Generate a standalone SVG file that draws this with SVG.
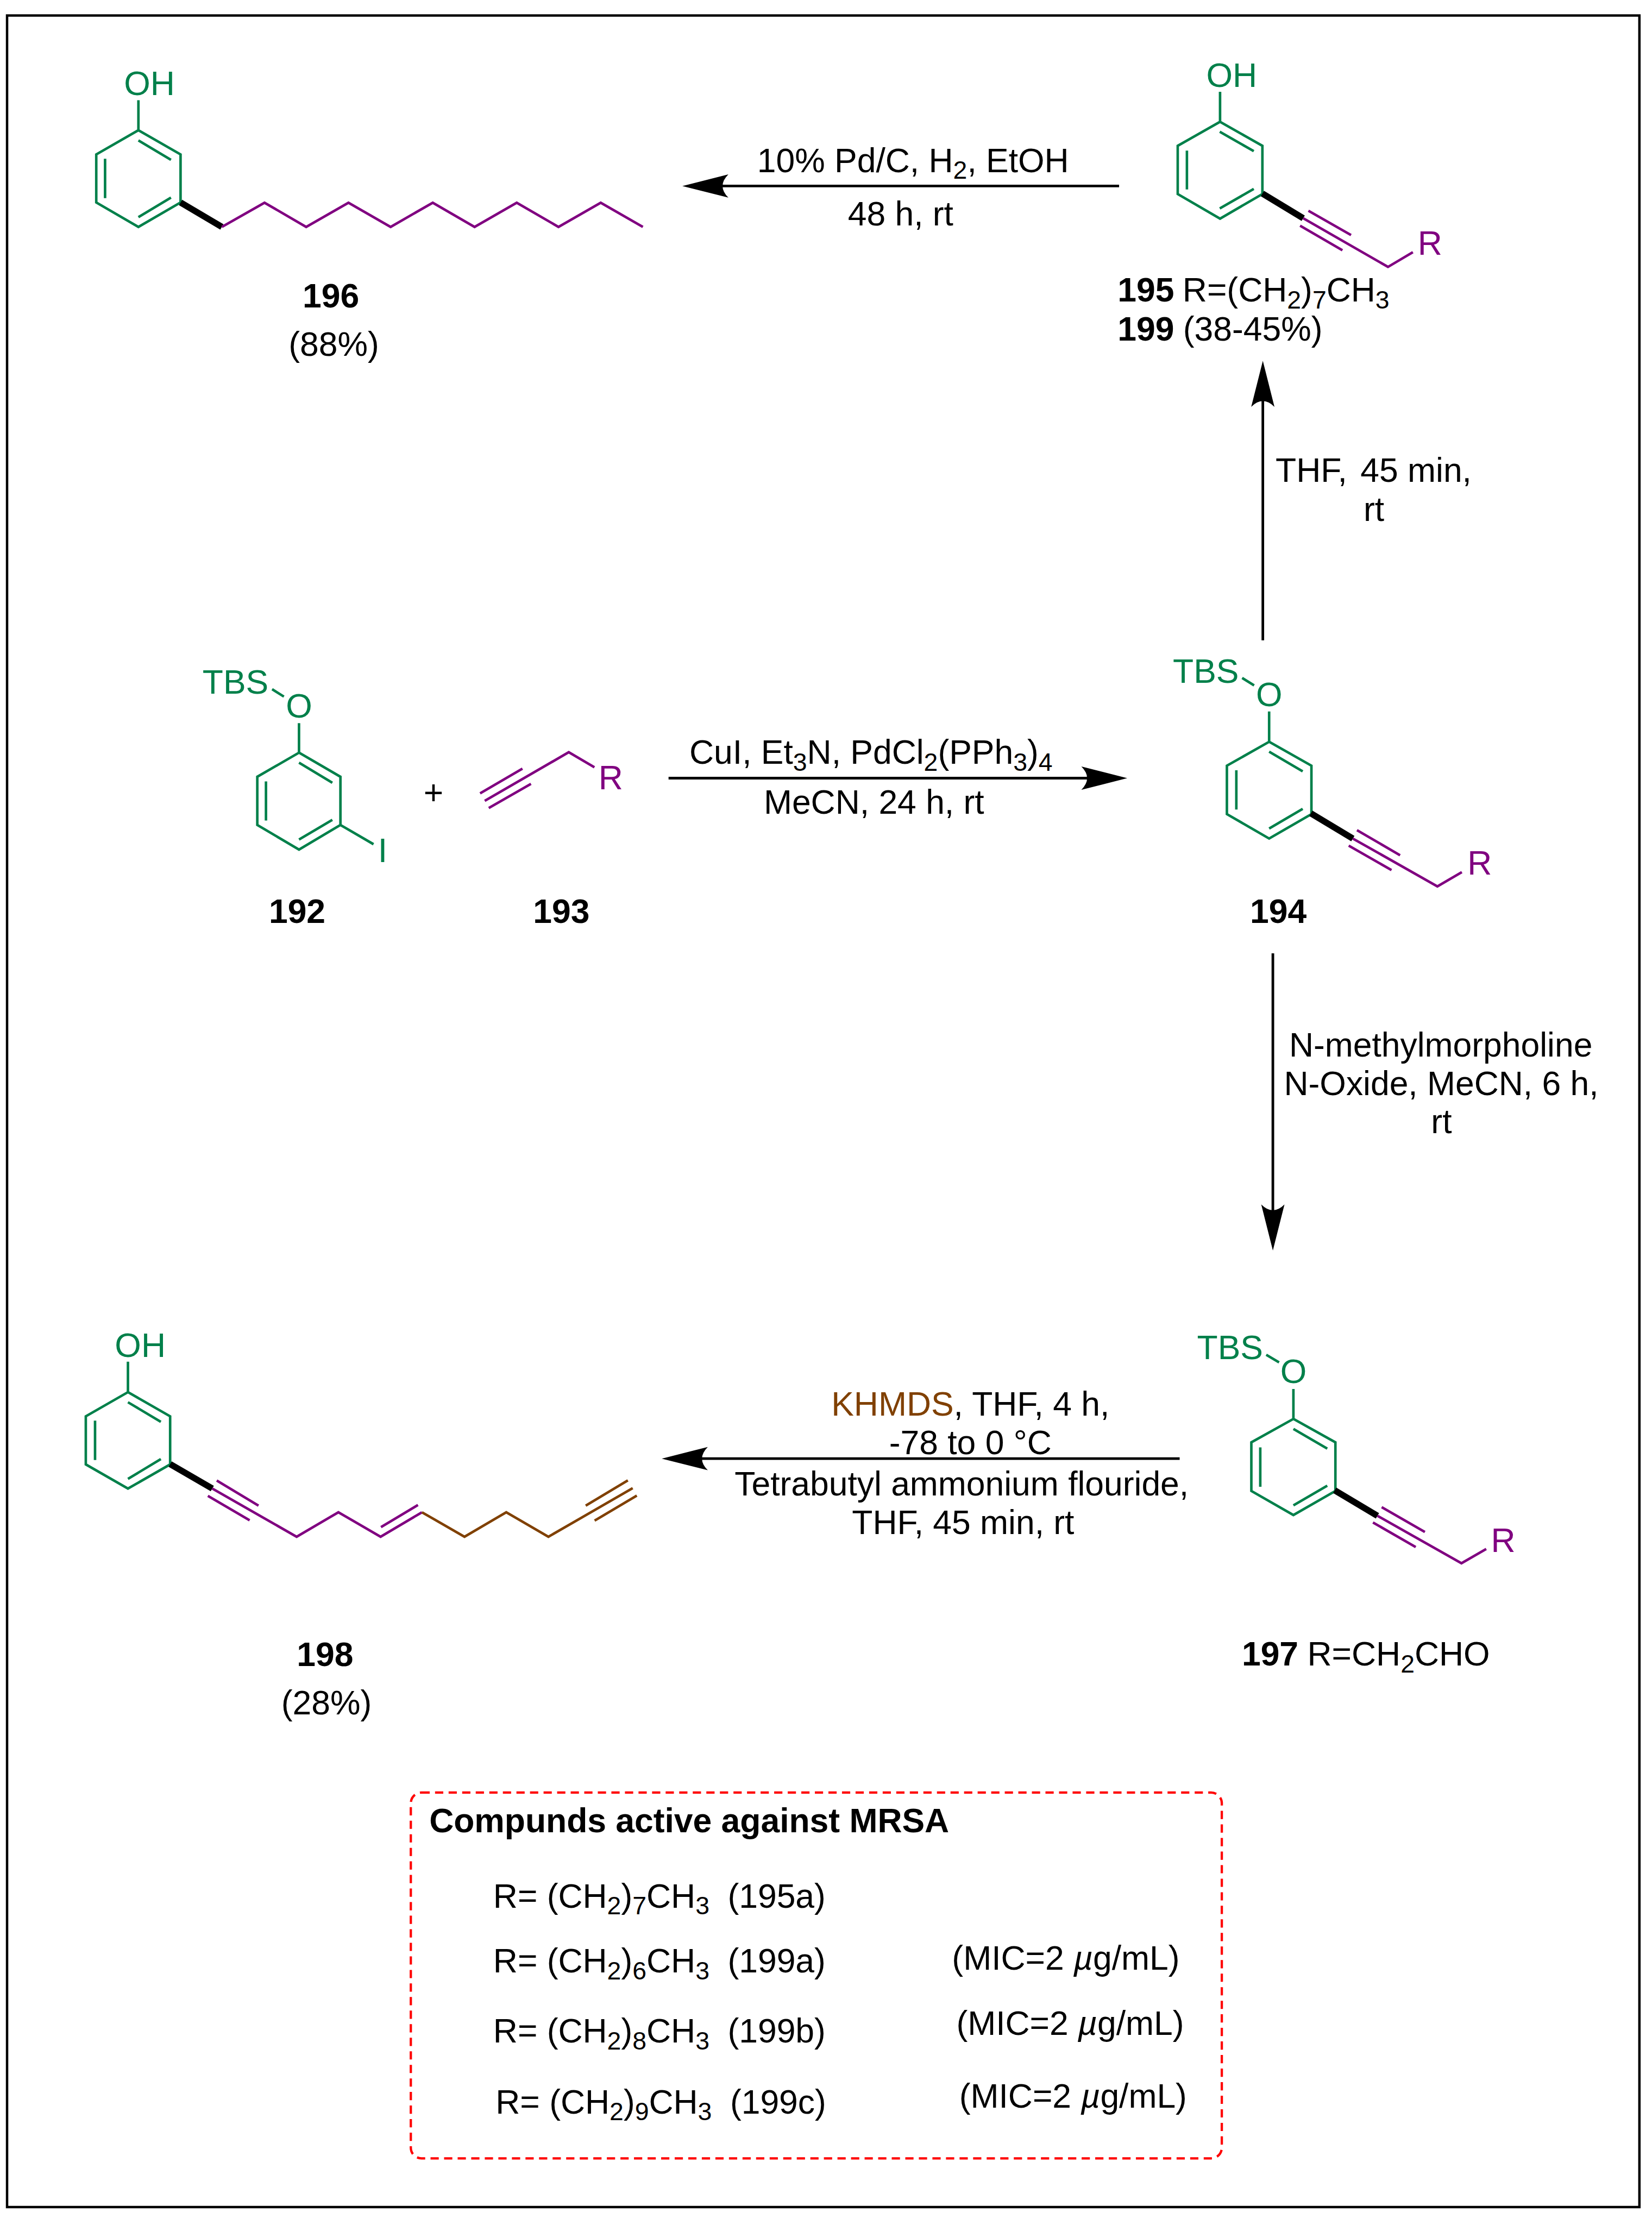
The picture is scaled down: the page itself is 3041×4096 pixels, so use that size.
<svg xmlns="http://www.w3.org/2000/svg" width="3041" height="4096" viewBox="0 0 3041 4096">
<defs>
<style>
text{font-family:"Liberation Sans",Arial,sans-serif;font-size:70px;fill:#000}
.b{font-weight:bold}
.gt{fill:#00804a}
.pt{fill:#800080}
.bt{fill:#804000}
.m{text-anchor:middle}
.s{font-size:52px}
.g,.p,.w{fill:none;stroke-width:5.2;stroke-linejoin:miter}
.g{stroke:#00804a}
.p{stroke:#800080}
.w{stroke:#804000}
.h{fill:none;stroke:#000;stroke-width:13}
.a{fill:none;stroke:#000;stroke-width:5.4}
</style>
<marker id="ah" markerUnits="userSpaceOnUse" markerWidth="95" markerHeight="50" viewBox="0 0 95 50" refX="14" refY="25" orient="auto"><path d="M95 25L0 1Q24 25 0 49Z" fill="#000"/></marker>
</defs>
<g transform="scale(0.89179)">
<rect x="14.6" y="32" width="3369.4" height="4524" fill="#fff" stroke="#000" stroke-width="5"/>

<g id="connectors">
<path class="a" d="M2310 384H1489.5" marker-end="url(#ah)"/>
<path class="a" d="M2606.7 1321.8V825.8" marker-end="url(#ah)"/>
<path class="a" d="M1380 1606.3H2246" marker-end="url(#ah)"/>
<path class="a" d="M2627.4 1968V2500.4" marker-end="url(#ah)"/>
<path class="a" d="M2435 3011H1447" marker-end="url(#ah)"/>
</g>

<g id="n196">
<path class="g" d="M285.7 268.8L372.7 318.8V417.9L285.7 468.4L198.7 417.9V318.8ZM285.7 268.8V207M285.7 289.8L352.9 330M216.9 327.8V409M285.7 448.3L352.9 408"/>
<path class="h" d="M372.7 417.9L458 468.4"/>
<path class="p" d="M458 468.4L546 418.4L632 468.4L719.3 418.4L806.3 468.4L893.3 418.4L979.6 468.4L1066.6 418.4L1152.8 468.4L1240 418.4L1327 468.4"/>
<text class="gt" x="256" y="196">OH</text>
<text class="b m" x="683" y="635">196</text>
<text class="m" x="689" y="734">(88%)</text>
</g>

<g id="n195">
<path class="g" d="M2518.4 251.4L2605.8 301V400.5L2518.4 451.4L2431 400.5V301ZM2518.4 251.4V189.4M2517.8 272L2588 312M2450 311V391M2517.8 430.4L2588 390"/>
<path class="h" d="M2605.8 399.5L2690 450.5"/>
<path class="p" d="M2690 450.5L2865 551L2916.4 520.6M2700.8 435L2788.8 485.3M2683.6 466L2771 516.6"/>
<text class="gt" x="2490" y="179">OH</text>
<text class="pt" x="2926.5" y="526.4">R</text>
<text class="b" x="2307" y="622.4">195</text>
<text x="2441" y="622.4">R=(CH<tspan class="s" dy="14">2</tspan><tspan dy="-14">)</tspan><tspan class="s" dy="14">7</tspan><tspan dy="-14">CH</tspan><tspan class="s" dy="14">3</tspan></text>
<text class="b" x="2307" y="702.7">199</text>
<text x="2442" y="702.7">(38-45%)</text>
</g>

<g id="n192">
<path class="g" d="M617.2 1553.7L702.7 1603.4V1702.9L617.2 1753.9L531.1 1702.9V1603.4ZM617.2 1553.7V1492.8M561.7 1422.7L586 1438M617.2 1574.4L686 1615.9M549 1613V1693.8M617.2 1733L686 1692.5M702.7 1702.9L771 1742.7"/>
<text class="gt" x="418" y="1431.8">TBS</text>
<text class="gt m" x="617.2" y="1481">O</text>
<text class="gt m" x="790" y="1779.6">I</text>
<text class="b m" x="613.4" y="1905">192</text>
</g>

<text id="plus" class="m" x="894.7" y="1661">+</text>

<g id="n193">
<path class="p" d="M1000.6 1653.2L1174 1552.8L1227 1584M991 1637.8L1078.4 1586.8M1008.9 1668L1096 1618"/>
<text class="pt" x="1235.5" y="1629.5">R</text>
<text class="b m" x="1158.7" y="1905">193</text>
</g>

<g id="n194">
<path class="g" d="M2619.7 1531.3L2707 1580.6V1680.5L2619.7 1731L2532.5 1680.5V1580.6ZM2619.7 1531.3V1468.7M2564 1399.5L2588.7 1414.8M2619.7 1551.6L2689 1592.2M2552 1590V1671M2619.7 1710.4L2689 1669.7"/>
<path class="h" d="M2705.8 1679L2792.5 1731"/>
<path class="p" d="M2792.5 1731L2967 1829.7L3017.5 1800.3M2801 1713.7L2890 1765.5M2784 1745.6L2872.3 1796.2"/>
<text class="gt" x="2421" y="1409">TBS</text>
<text class="gt m" x="2619.7" y="1458.3">O</text>
<text class="pt" x="3029" y="1805.7">R</text>
<text class="b m" x="2638.7" y="1905">194</text>
</g>

<g id="n197">
<path class="g" d="M2669.8 2929L2756.5 2977.3V3077.8L2669.8 3127.5L2583 3077.8V2977.3ZM2669.8 2929V2867.3M2613.7 2796.5L2640.2 2812.3M2669.8 2949.6L2739.7 2990.2M2601.4 2987.8V3069M2669.8 3107.4L2739.7 3066.8"/>
<path class="h" d="M2755 3076.3L2843.3 3129"/>
<path class="p" d="M2843.3 3129L3016.7 3227L3067.8 3197.4M2852 3111.2L2941.2 3162.4M2834 3142.8L2922.3 3193.5"/>
<text class="gt" x="2471" y="2806">TBS</text>
<text class="gt m" x="2669.8" y="2855">O</text>
<text class="pt" x="3077.5" y="3204">R</text>
<text class="b" x="2563.3" y="3438.4">197</text>
<text x="2698.5" y="3438.4">R=CH<tspan class="s" dy="14">2</tspan><tspan dy="-14">CHO</tspan></text>
</g>

<g id="n198">
<path class="g" d="M264.1 2873.8L351.2 2923.6V3023L264.1 3072.8L177.1 3023V2923.6ZM264.1 2873.8V2810.8M264.1 2894.6L332 2935M196.2 2932.7V3014M264.1 3052.9L332 3011.9"/>
<path class="h" d="M351.2 3022.2L438.2 3072.8"/>
<path class="p" d="M438.2 3072.8L612.3 3172.3L698.5 3121.7L785.6 3172.3L871 3121.7M447.4 3056.2L533.6 3108M429.1 3088L515.3 3138.3M786.4 3152.4L862.7 3106.8"/>
<path class="w" d="M871 3121.7L958.8 3172.3L1045 3121.7L1132 3172.3L1306 3072M1209 3108L1296 3056M1227.4 3139L1314.5 3087.3"/>
<text class="gt" x="237" y="2801">OH</text>
<text class="b m" x="671" y="3439">198</text>
<text class="m" x="674" y="3539">(28%)</text>
</g>

<g id="r1">
<text x="1563" y="355">10% Pd/C, H<tspan class="s" dy="14">2</tspan><tspan dy="-14">, EtOH</tspan></text>
<text class="m" x="1859" y="465">48 h, rt</text>
</g>
<g id="r2">
<text x="2633" y="995">THF,<tspan dx="8"> 45 min,</tspan></text>
<text class="m" x="2836" y="1075">rt</text>
</g>
<g id="r3">
<text x="1423" y="1576.6">CuI, Et<tspan class="s" dy="15">3</tspan><tspan dy="-15">N, PdCl</tspan><tspan class="s" dy="15">2</tspan><tspan dy="-15">(PPh</tspan><tspan class="s" dy="15">3</tspan><tspan dy="-15">)</tspan><tspan class="s" dy="15">4</tspan></text>
<text class="m" x="1804" y="1680">MeCN, 24 h, rt</text>
</g>
<g id="r4">
<text class="m" x="2974" y="2181.5">N-methylmorpholine</text>
<text class="m" x="2975" y="2260.6">N-Oxide, MeCN, 6 h,</text>
<text class="m" x="2975.4" y="2339.3">rt</text>
</g>
<g id="r5">
<text class="m" x="2003" y="2922.7"><tspan class="bt">KHMDS</tspan>, THF, 4 h,</text>
<text class="m" x="2003" y="3001.7">-78 to 0 °C</text>
<text class="m" x="1985" y="3087">Tetrabutyl ammonium flouride,</text>
<text class="m" x="1988" y="3167">THF, 45 min, rt</text>
</g>

<g id="box">
<rect x="848" y="3700.4" width="1674" height="755" rx="22" fill="none" stroke="#f00" stroke-width="4.8" stroke-dasharray="17 11"/>
<text class="b" x="886" y="3782">Compunds active against MRSA</text>
<text x="1018" y="3937.7">R= (CH<tspan class="s" dy="14">2</tspan><tspan dy="-14">)</tspan><tspan class="s" dy="14">7</tspan><tspan dy="-14">CH</tspan><tspan class="s" dy="14">3</tspan></text>
<text x="1502" y="3937.7">(195a)</text>
<text x="1018" y="4071.8">R= (CH<tspan class="s" dy="14">2</tspan><tspan dy="-14">)</tspan><tspan class="s" dy="14">6</tspan><tspan dy="-14">CH</tspan><tspan class="s" dy="14">3</tspan></text>
<text x="1502" y="4071.8">(199a)</text>
<text x="1018" y="4216.7">R= (CH<tspan class="s" dy="14">2</tspan><tspan dy="-14">)</tspan><tspan class="s" dy="14">8</tspan><tspan dy="-14">CH</tspan><tspan class="s" dy="14">3</tspan></text>
<text x="1502" y="4216.7">(199b)</text>
<text x="1023" y="4362.6">R= (CH<tspan class="s" dy="14">2</tspan><tspan dy="-14">)</tspan><tspan class="s" dy="14">9</tspan><tspan dy="-14">CH</tspan><tspan class="s" dy="14">3</tspan></text>
<text x="1507" y="4362.6">(199c)</text>
<text x="1965" y="4066">(MIC=2 <tspan font-style="italic">µ</tspan>g/mL)</text>
<text x="1974" y="4200.4">(MIC=2 <tspan font-style="italic">µ</tspan>g/mL)</text>
<text x="1980" y="4351">(MIC=2 <tspan font-style="italic">µ</tspan>g/mL)</text>
</g>
</g>
</svg>
